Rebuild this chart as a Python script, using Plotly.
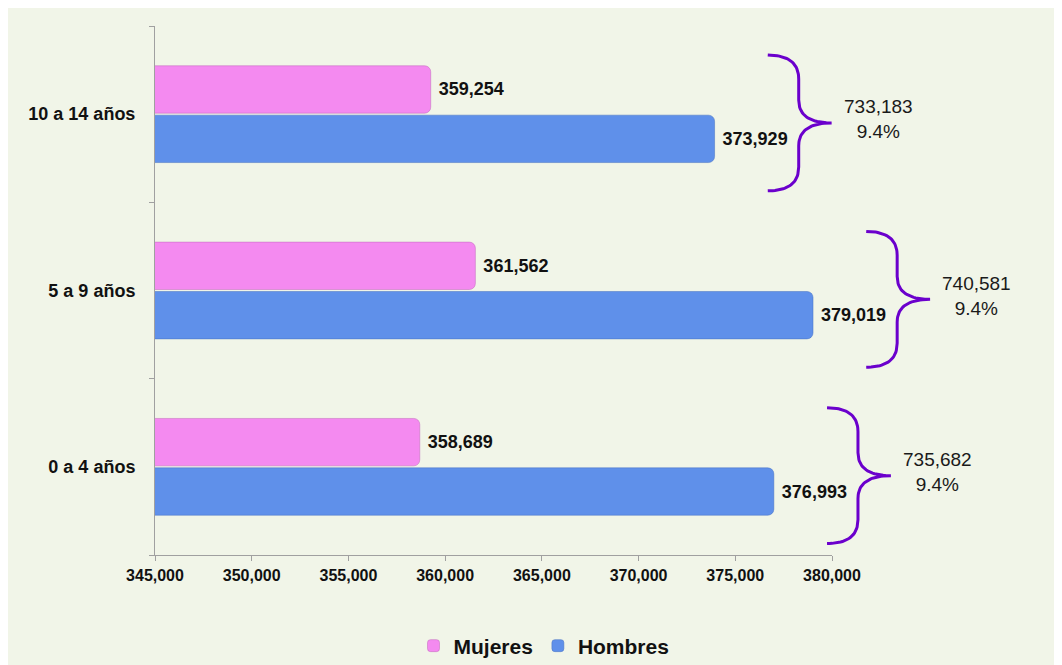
import plotly.graph_objects as go

# ---- data ----
categories = ["0 a 4 años", "5 a 9 años", "10 a 14 años"]
mujeres = [358689, 361562, 359254]
hombres = [376993, 379019, 373929]
porcentaje = ["9.4%", "9.4%", "9.4%"]
x_ticks = [345000, 350000, 355000, 360000, 365000, 370000, 375000, 380000]

FONT = "Liberation Sans, Arial, sans-serif"
BG = "#F1F5E8"
PINK = "#F48AF0"
BLUE = "#5F90EA"
PURPLE = "#6B00CC"

W, H = 1062, 665
ML, MT, MB = 147, 18, 118
PLOT_W = W - ML          # full-width helper subplot
MAIN_W = 677             # pixel width of the main value axis
XMIN, XMAX = 345000, 380000
main_frac = MAIN_W / PLOT_W
x2_max = XMIN + (XMAX - XMIN) / main_frac   # same scale as main axis

fig = go.Figure()

fig.add_trace(go.Bar(
    name="Hombres", y=categories, x=hombres, orientation="h",
    marker=dict(color=BLUE, line=dict(color="#4670C0", width=0.5)),
    texttemplate="\u00a0%{x:,}", textposition="outside",
    textfont=dict(family=FONT, size=18, color="#111111", weight="bold"),
    cliponaxis=False, legendrank=2,
))
fig.add_trace(go.Bar(
    name="Mujeres", y=categories, x=mujeres, orientation="h",
    marker=dict(color=PINK, line=dict(color="#C066BA", width=0.5)),
    texttemplate="\u00a0%{x:,}", textposition="outside",
    textfont=dict(family=FONT, size=18, color="#111111", weight="bold"),
    cliponaxis=False, legendrank=1,
))


def qbez(p0, c, p1, n=24):
    pts = []
    for k in range(n + 1):
        t = k / n
        x = (1 - t) ** 2 * p0[0] + 2 * (1 - t) * t * c[0] + t ** 2 * p1[0]
        y = (1 - t) ** 2 * p0[1] + 2 * (1 - t) * t * c[1] + t ** 2 * p1[1]
        pts.append((x, y))
    return pts


# braces and totals (drawn on a helper x2/y2 subplot sharing the same scales)
for i, cat in enumerate(categories):
    base = hombres[i]
    xs = base + 2750
    xv = base + 4350
    xt = base + 6050
    yc = i - 0.05
    h, a, b = 0.385, 0.136, 0.13
    pts = []
    pts += qbez((xs, yc + h), (xv, yc + h), (xv, yc + h - a))
    pts += qbez((xv, yc + b), (xv, yc), (xt, yc))
    pts += qbez((xt, yc), (xv, yc), (xv, yc - b))
    pts += qbez((xv, yc - h + a), (xv, yc - h), (xs, yc - h))
    fig.add_trace(go.Scatter(
        x=[p[0] for p in pts], y=[p[1] for p in pts], mode="lines",
        xaxis="x2", yaxis="y2",
        line=dict(color=PURPLE, width=3), cliponaxis=False,
        showlegend=False, hoverinfo="skip",
    ))
    total = mujeres[i] + hombres[i]
    fig.add_annotation(
        x=xt + 2400, y=yc + 0.02, xref="x2", yref="y2",
        text=f"{total:,}<br>{porcentaje[i]}", showarrow=False,
        font=dict(family=FONT, size=19, color="#1A1A1A"), align="center",
    )

fig.update_layout(
    width=W, height=H,
    margin=dict(l=ML, r=0, t=MT, b=MB, autoexpand=False),
    paper_bgcolor=BG, plot_bgcolor="rgba(0,0,0,0)",
    barmode="group", bargap=0.44, bargroupgap=0.04,
    barcornerradius=6,
    font=dict(family=FONT, color="#111111"),
    showlegend=True,
    legend=dict(
        orientation="h", x=(536 - ML) / MAIN_W * main_frac, xref="paper",
        xanchor="center", y=-0.172, yanchor="middle",
        font=dict(family=FONT, size=21, color="#111111", weight="bold"),
        bgcolor="rgba(0,0,0,0)", itemwidth=30,
    ),
    xaxis=dict(
        domain=[0, main_frac], anchor="y",
        range=[XMIN, XMAX], tickvals=x_ticks, tickformat=",",
        showgrid=False, zeroline=False,
        showline=True, linecolor="#A0A0A0", linewidth=1,
        ticks="outside", ticklen=5, tickcolor="#A0A0A0",
        tickfont=dict(family=FONT, size=16, color="#111111", weight="bold"),
        ticklabelstandoff=1,
    ),
    yaxis=dict(
        type="category", categoryorder="array", categoryarray=categories,
        range=[-0.5, 2.5], tickson="boundaries", anchor="x",
        showgrid=False, zeroline=False,
        showline=True, linecolor="#A0A0A0", linewidth=1,
        ticks="outside", ticklen=5, tickcolor="#A0A0A0",
        tickfont=dict(family=FONT, size=18, color="#111111", weight="bold"),
        ticklabelstandoff=15,
    ),
    xaxis2=dict(domain=[0, 1], anchor="y2", range=[XMIN, x2_max], visible=False),
    yaxis2=dict(domain=[0, 1], anchor="x2", range=[-0.5, 2.5], visible=False),
)

fig.write_html("out.html")
